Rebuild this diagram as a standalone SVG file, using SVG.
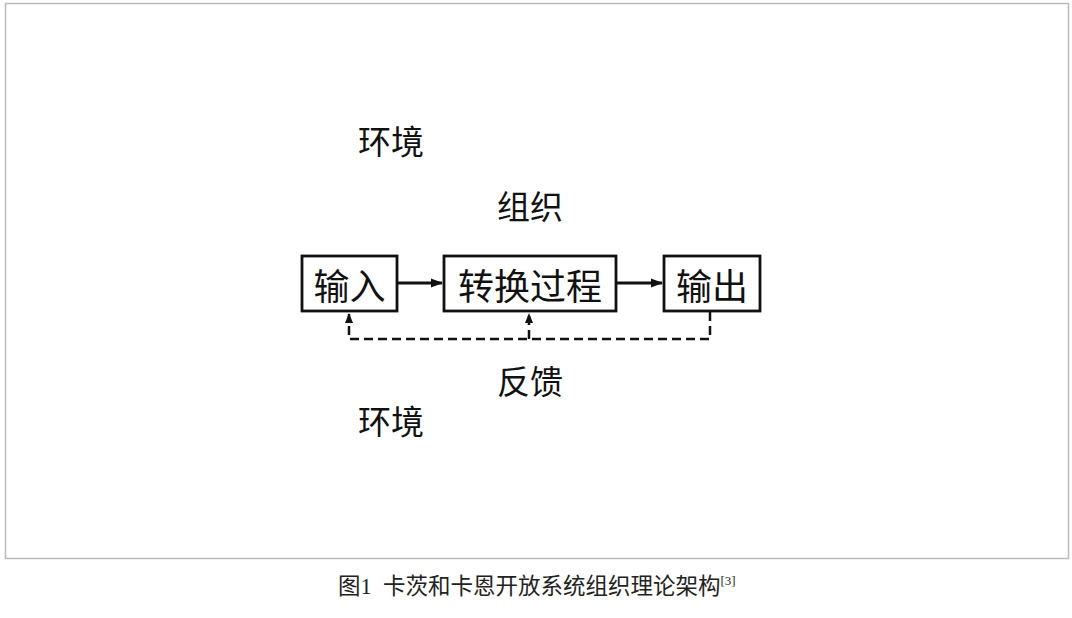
<svg xmlns="http://www.w3.org/2000/svg" width="1072" height="618" viewBox="0 0 1072 618">
<style>
.lbl{font-family:"Noto Sans CJK SC","Liberation Sans",sans-serif;font-size:33px;fill:#111;dominant-baseline:central;text-anchor:middle}
.box{fill:#fff;stroke:#111;stroke-width:2.8}
.btxt{font-family:"Noto Sans CJK SC","Liberation Sans",sans-serif;font-size:36px;fill:#111;dominant-baseline:central;text-anchor:middle}
.solid{fill:none;stroke:#111;stroke-width:3}
.dash{fill:none;stroke:#111;stroke-width:2.5;stroke-dasharray:9 5}
.cap{font-family:"Liberation Serif","Noto Sans CJK SC",serif;font-size:22.5px;fill:#222}
</style>
<defs>
<marker id="ah" markerWidth="12" markerHeight="12" refX="11" refY="6" orient="auto" markerUnits="userSpaceOnUse">
<path d="M0,1.5 L12,6 L0,10.5 Z" fill="#111"/>
</marker>
<marker id="ahd" markerWidth="10" markerHeight="10" refX="9" refY="5" orient="auto" markerUnits="userSpaceOnUse">
<path d="M0,1 L10,5 L0,9 Z" fill="#111"/>
</marker>
</defs>
<rect x="0" y="0" width="1072" height="618" fill="#fff"/>
<rect x="5.5" y="3.5" width="1063" height="555" fill="#fff" stroke="#bbb" stroke-width="1.5"/>
<g id="env-top"><text class="lbl" x="391" y="140">环境</text></g>
<g id="org"><text class="lbl" x="530" y="205">组织</text></g>
<g id="feedback"><text class="lbl" x="530" y="380">反馈</text></g>
<g id="env-bottom"><text class="lbl" x="391" y="420">环境</text></g>
<g id="input"><rect class="box" x="302" y="256" width="95" height="55"/><text class="btxt" x="349.5" y="284">输入</text></g>
<g id="transform"><rect class="box" x="444" y="256" width="172" height="55"/><text class="btxt" x="530" y="284">转换过程</text></g>
<g id="output"><rect class="box" x="664" y="256" width="96" height="55"/><text class="btxt" x="712" y="284">输出</text></g>
<g id="connectors">
<line class="solid" x1="397" y1="283" x2="442" y2="283" marker-end="url(#ah)"/>
<line class="solid" x1="616" y1="283" x2="662" y2="283" marker-end="url(#ah)"/>
<polyline class="dash" points="710,312 710,339 349,339 349,314" marker-end="url(#ahd)"/>
<line class="dash" x1="529" y1="339" x2="529" y2="314" marker-end="url(#ahd)"/>
</g>
<g id="caption"><text class="cap" x="338" y="594" xml:space="preserve">图1  卡茨和卡恩开放系统组织理论架构<tspan font-size="13" dy="-9">[3]</tspan></text></g>
</svg>
